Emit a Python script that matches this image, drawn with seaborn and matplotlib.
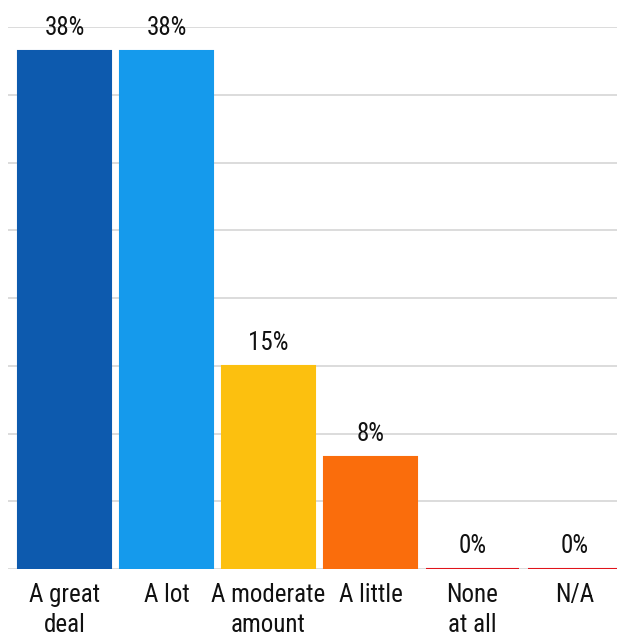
import matplotlib
matplotlib.use("Agg")
import pandas as pd
import matplotlib.pyplot as plt
import seaborn as sns

# Data
categories = ["A great\ndeal", "A lot", "A moderate\namount", "A little", "None\nat all", "N/A"]
shares = [38.2, 38.2, 15.0, 8.3, 0.0, 0.0]
bar_colors = ["#0d5aae", "#159aec", "#fcc00f", "#fa6d0c", "#e0141b", "#e0141b"]

df = pd.DataFrame({"answer": categories, "share": shares})

sns.set_style("white")
plt.rcParams["font.family"] = ["Roboto Condensed", "Liberation Sans", "DejaVu Sans"]

fig = plt.figure(figsize=(6.2, 6.36), dpi=100)
ax = fig.add_axes([8 / 620, 67 / 636, 609 / 620, 542 / 636])

sns.barplot(data=df, x="answer", y="share", hue="answer", palette=bar_colors,
            legend=False, width=0.91, saturation=1, ax=ax, zorder=3)

# zero-height bars still show as a thin line in their colour
for p in ax.patches:
    p.set_edgecolor(p.get_facecolor())
    p.set_linewidth(1.5)

# value labels above bars
for i, v in enumerate(shares):
    ax.annotate(f"{v:.0f}%", (i, v), xytext=(0, 11.5), textcoords="offset points",
                ha="center", va="baseline", fontsize=18, color="#111111")

ax.set_ylim(0, 40)
ax.set_xlim(-0.554, 5.417)
ax.set_yticks(range(0, 41, 5))
ax.set_yticklabels([])
ax.yaxis.grid(True, color="#d9d9d9", linewidth=1.3, zorder=0)
ax.set_axisbelow(True)
ax.tick_params(axis="both", length=0)
ax.tick_params(axis="x", pad=10, labelsize=18, labelcolor="#111111")
for lab in ax.get_xticklabels():
    lab.set_linespacing(1.33)
ax.set_xlabel("")
ax.set_ylabel("")
sns.despine(ax=ax, left=True, bottom=True, top=True, right=True)

fig.savefig("out.png", dpi=100)
